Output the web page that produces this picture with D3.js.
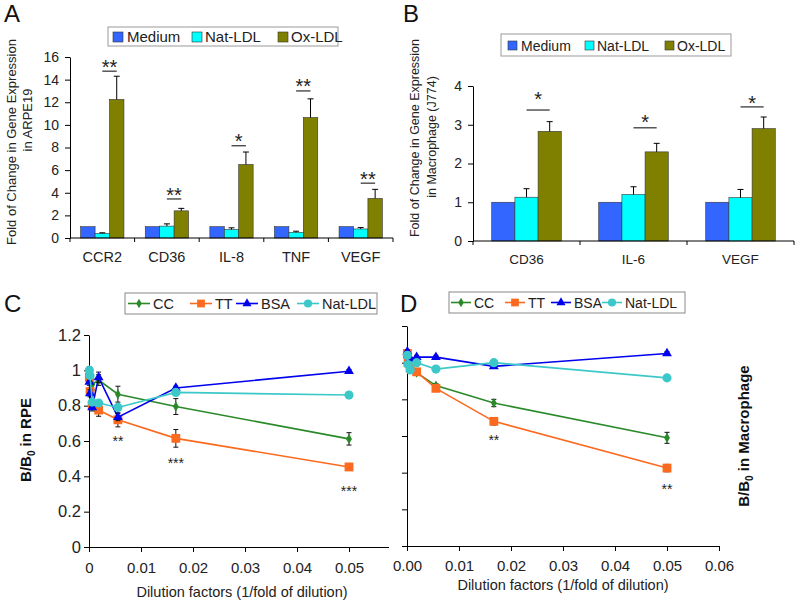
<!DOCTYPE html>
<html>
<head>
<meta charset="utf-8">
<script src="https://cdn.jsdelivr.net/npm/d3@7"></script>
<style>
  body { margin: 0; background: #fff; }
</style>
</head>
<body>
<svg id="fig" width="798" height="600"></svg>
<script>
// ---------- data ----------
var barSeries = ["Medium", "Nat-LDL", "Ox-LDL"];
var barColors = ["#3366ff", "#00ffff", "#808000"];

// panel A: ARPE19
var genesA = ["CCR2", "CD36", "IL-8", "TNF", "VEGF"];
var mediumA = [1, 1, 1, 1, 1];
var natA = [0.4, 1.05, 0.75, 0.5, 0.8];
var oxA = [12.25, 2.4, 6.5, 10.65, 3.5];
var mediumErrA = [0, 0, 0, 0, 0];
var natErrA = [0.06, 0.2, 0.15, 0.1, 0.12];
var oxErrA = [2.05, 0.22, 1.1, 1.65, 0.8];
var sigA = ["**", "**", "*", "**", "**"];
var sigLineA = [14.75, 3.45, 8.15, 13.0, 4.85];
var sigStarA = [15.55, 4.25, 8.95, 13.8, 5.6];
var yTicksA = [0, 2, 4, 6, 8, 10, 12, 14, 16];

// panel B: macrophage J774
var genesB = ["CD36", "IL-6", "VEGF"];
var mediumB = [1, 1, 1];
var natB = [1.13, 1.2, 1.12];
var oxB = [2.83, 2.3, 2.9];
var mediumErrB = [0, 0, 0];
var natErrB = [0.22, 0.2, 0.21];
var oxErrB = [0.25, 0.22, 0.3];
var sigB = ["*", "*", "*"];
var sigLineB = [3.38, 2.92, 3.46];
var sigStarB = [3.78, 3.18, 3.68];
var yTicksB = [0, 1, 2, 3, 4];

// panels C and D: dilution curves
var lineSeries = ["CC", "TT", "BSA", "Nat-LDL"];
var lineColors = ["#2a8a2a", "#fb6a1f", "#0000ee", "#3cc8c8"];
var dilution = [0.0000686, 0.000206, 0.000617, 0.00185, 0.00556, 0.0167, 0.05];
var xTicks = [0, 0.01, 0.02, 0.03, 0.04, 0.05, 0.06];
var xLabelsC = ["0", "0.01", "0.02", "0.03", "0.04", "0.05", ""];
var xLabelsD = ["0.00", "0.01", "0.02", "0.03", "0.04", "0.05", "0.06"];
var yTicksCD = [0, 0.2, 0.4, 0.6, 0.8, 1, 1.2];
var yLabelsC = ["0", "0.2", "0.4", "0.6", "0.8", "1", "1.2"];

var ccC = [1.0, 0.95, 0.92, 0.945, 0.865, 0.795, 0.612];
var ttC = [0.96, 0.88, 0.8, 0.775, 0.72, 0.615, 0.453];
var bsaC = [0.935, 0.87, 0.79, 0.96, 0.735, 0.9, 0.995];
var natC = [1.0, 0.97, 0.82, 0.815, 0.79, 0.875, 0.86];
var ccErrC = [0.02, 0.02, 0.03, 0.03, 0.045, 0.045, 0.035];
var ttErrC = [0.02, 0.02, 0.02, 0.035, 0.04, 0.05, 0.02];
var bsaErrC = [0.02, 0.02, 0.02, 0.03, 0.02, 0.01, 0.01];
var natErrC = [0.01, 0.01, 0.01, 0.01, 0.01, 0.01, 0.01];
var sigXC = [0.00556, 0.0167, 0.05];
var sigYC = [0.617, 0.49, 0.334];
var sigC = ["**", "***", "***"];

var ccD = [1.02, 0.99, 0.98, 0.945, 0.875, 0.78, 0.59];
var ttD = [1.05, 1.0, 0.97, 0.95, 0.86, 0.68, 0.425];
var bsaD = [1.06, 1.04, 1.02, 1.03, 1.03, 0.98, 1.05];
var natD = [1.04, 0.99, 0.96, 1.0, 0.965, 1.0, 0.917];
var ccErrD = [0.01, 0.01, 0.01, 0.01, 0.01, 0.02, 0.03];
var ttErrD = [0.01, 0.01, 0.01, 0.01, 0.01, 0.02, 0.02];
var bsaErrD = [0.01, 0.01, 0.01, 0.01, 0.01, 0.01, 0.01];
var natErrD = [0.01, 0.01, 0.01, 0.01, 0.01, 0.01, 0.01];
var sigXD = [0.0167, 0.05];
var sigYD = [0.595, 0.327];
var sigD = ["**", "**"];

// ---------- drawing ----------
var FONT = "Arial, 'Liberation Sans', sans-serif";
var svg = d3.select("#fig").attr("font-family", FONT);
svg.append("rect").attr("width", 798).attr("height", 600).attr("fill", "#fff");

function styleAxis(sel, fs) {
  sel.attr("font-family", FONT).attr("font-size", fs);
  sel.selectAll("path, line").attr("stroke", "#000").attr("stroke-width", 1);
  sel.selectAll("text").attr("fill", "#222");
}

function letter(x, y, t) {
  svg.append("text").attr("x", x).attr("y", y)
    .attr("font-size", 24).attr("fill", "#111").text(t);
}

// grouped bar panel (A, B)
function drawBars(p) {
  var g = svg.append("g");
  var x0 = d3.scaleBand().domain(p.genes).range([p.left, p.right]);
  var inner = x0.bandwidth() * p.groupFrac;
  var x1 = d3.scaleBand().domain(barSeries).range([0, inner]);
  var pad = (x0.bandwidth() - inner) / 2;
  var y = d3.scaleLinear().domain([0, p.yMax]).range([p.bottom, p.top]);

  var ya = g.append("g")
    .attr("transform", "translate(" + p.left + ",0)")
    .call(d3.axisLeft(y).tickValues(p.yTicks).tickFormat(d3.format("d"))
      .tickSize(5).tickSizeOuter(0).tickPadding(p.tickPad));
  styleAxis(ya, p.tickFont);

  barSeries.forEach(function(s, i) {
    var rows = p.genes.map(function(gn, j) {
      return { gene: gn, v: p.values[i][j], e: p.errs[i][j] };
    });
    g.selectAll(null).data(rows).enter().append("rect")
      .attr("x", d => x0(d.gene) + pad + x1(s))
      .attr("y", d => y(d.v))
      .attr("width", x1.bandwidth())
      .attr("height", d => y(0) - y(d.v))
      .attr("fill", barColors[i])
      .attr("stroke", "#333")
      .attr("stroke-width", 0.6);

    var eb = rows.filter(d => d.e > 0);
    var cx = d => x0(d.gene) + pad + x1(s) + x1.bandwidth() / 2;
    g.selectAll(null).data(eb).enter().append("line")
      .attr("x1", cx).attr("x2", cx)
      .attr("y1", d => y(d.v)).attr("y2", d => y(d.v + d.e))
      .attr("stroke", "#000").attr("stroke-width", 1);
    g.selectAll(null).data(eb).enter().append("line")
      .attr("x1", d => cx(d) - 3).attr("x2", d => cx(d) + 3)
      .attr("y1", d => y(d.v + d.e)).attr("y2", d => y(d.v + d.e))
      .attr("stroke", "#000").attr("stroke-width", 1);
  });

  // category axis: ticks on band edges, labels in the middle
  g.append("line").attr("x1", p.left).attr("x2", p.right)
    .attr("y1", y(0)).attr("y2", y(0)).attr("stroke", "#000");
  var edges = p.genes.map(d => x0(d)).concat([p.right]);
  g.selectAll(null).data(edges).enter().append("line")
    .attr("x1", d => d).attr("x2", d => d)
    .attr("y1", y(0)).attr("y2", y(0) + 4).attr("stroke", "#000");
  g.selectAll(null).data(p.genes).enter().append("text")
    .attr("x", d => x0(d) + x0.bandwidth() / 2)
    .attr("y", y(0) + p.catDy)
    .attr("text-anchor", "middle").attr("font-size", p.catFont).attr("fill", "#222")
    .text(d => d);

  // significance marks between Nat-LDL and Ox-LDL
  var natC = d => x0(d) + pad + x1("Nat-LDL") + x1.bandwidth() / 2;
  var oxC = d => x0(d) + pad + x1("Ox-LDL") + x1.bandwidth() / 2;
  g.selectAll(null).data(p.genes).enter().append("line")
    .attr("x1", natC).attr("x2", oxC)
    .attr("y1", (d, j) => y(p.sigLine[j])).attr("y2", (d, j) => y(p.sigLine[j]))
    .attr("stroke", "#000");
  g.selectAll(null).data(p.genes).enter().append("text")
    .attr("x", d => (natC(d) + oxC(d)) / 2)
    .attr("y", (d, j) => y(p.sigStar[j]) + 0.58 * 20)
    .attr("text-anchor", "middle").attr("font-size", 20).attr("fill", "#222")
    .text((d, j) => p.sig[j]);

  // legend
  var lg = g.append("g");
  lg.append("rect").attr("x", p.legend.x).attr("y", p.legend.y)
    .attr("width", p.legend.w).attr("height", p.legend.h)
    .attr("fill", "#fff").attr("stroke", "#999");
  barSeries.forEach(function(s, i) {
    lg.append("rect").attr("x", p.legend.sq[i]).attr("y", p.legend.sqY)
      .attr("width", p.legend.sqS).attr("height", p.legend.sqS)
      .attr("fill", barColors[i]).attr("stroke", "#333").attr("stroke-width", 0.6);
    lg.append("text").attr("x", p.legend.tx[i]).attr("y", p.legend.ty)
      .attr("font-size", p.legend.fs).attr("fill", "#222").text(s);
  });

  // y title, two lines
  p.title.forEach(function(t) {
    g.append("text")
      .attr("transform", "translate(" + t.x + "," + t.y + ") rotate(-90)")
      .attr("text-anchor", "middle").attr("font-size", p.titleFont).attr("fill", "#222")
      .text(t.text);
  });
}

// dilution curve panel (C, D)
function drawLines(p) {
  var g = svg.append("g");
  if (p.mask) {
    g.append("rect").attr("x", p.mask).attr("y", 275)
      .attr("width", 798 - p.mask).attr("height", 325).attr("fill", "#fff");
  }
  var x = d3.scaleLinear().domain([0, 0.06]).range([p.left, p.right]);
  var y = d3.scaleLinear().domain([0, 1.2]).range([p.bottom, p.top]);

  var xa = g.append("g")
    .attr("transform", "translate(0," + p.bottom + ")")
    .call(d3.axisBottom(x).tickValues(xTicks).tickFormat((d, i) => p.xLabels[i])
      .tickSize(5).tickSizeOuter(0).tickPadding(p.xPad));
  styleAxis(xa, 15);
  var ya = g.append("g")
    .attr("transform", "translate(" + p.left + ",0)")
    .call(d3.axisLeft(y).tickValues(yTicksCD)
      .tickFormat((d, i) => p.yLabels ? p.yLabels[i] : "")
      .tickSize(5).tickSizeOuter(0).tickPadding(3));
  styleAxis(ya, 16.5);

  var symbols = [d3.symbolDiamond, d3.symbolSquare, d3.symbolTriangle, d3.symbolCircle];
  var sizes = [30, 78, 42, 66];
  var line = d3.line().x(d => x(d.x)).y(d => y(d.v));

  lineSeries.forEach(function(s, i) {
    var pts = dilution.map((dx, j) => ({ x: dx, v: p.values[i][j], e: p.errs[i][j] }));
    g.append("path").datum(pts).attr("d", line)
      .attr("fill", "none").attr("stroke", lineColors[i]).attr("stroke-width", 1.6);
    g.selectAll(null).data(pts).enter().append("line")
      .attr("x1", d => x(d.x)).attr("x2", d => x(d.x))
      .attr("y1", d => y(d.v - d.e)).attr("y2", d => y(d.v + d.e))
      .attr("stroke", "#111").attr("stroke-width", 1);
    [-1, 1].forEach(function(sg) {
      g.selectAll(null).data(pts).enter().append("line")
        .attr("x1", d => x(d.x) - 2.5).attr("x2", d => x(d.x) + 2.5)
        .attr("y1", d => y(d.v + sg * d.e)).attr("y2", d => y(d.v + sg * d.e))
        .attr("stroke", "#111").attr("stroke-width", 1);
    });
    g.selectAll(null).data(pts).enter().append("path")
      .attr("d", d3.symbol().type(symbols[i]).size(sizes[i]))
      .attr("transform", d => "translate(" + x(d.x) + "," + y(d.v) + ")")
      .attr("fill", lineColors[i]);
  });

  // significance stars
  g.selectAll(null).data(p.sigX).enter().append("text")
    .attr("x", d => x(d))
    .attr("y", (d, i) => y(p.sigY[i]) + 8)
    .attr("text-anchor", "middle").attr("font-size", 14).attr("fill", "#222")
    .text((d, i) => p.sig[i]);

  // legend
  var L = p.legend;
  var lg = g.append("g");
  lg.append("rect").attr("x", L.x).attr("y", L.y).attr("width", L.w).attr("height", L.h)
    .attr("fill", "#fff").attr("stroke", "#888");
  var my = L.y + L.h / 2;
  var legSizes = [26, 60, 36, 52];
  lineSeries.forEach(function(s, i) {
    lg.append("line").attr("x1", L.lx[i]).attr("x2", L.lx[i] + L.lw)
      .attr("y1", my).attr("y2", my).attr("stroke", lineColors[i]).attr("stroke-width", 1.6);
    lg.append("path").attr("d", d3.symbol().type(symbols[i]).size(legSizes[i]))
      .attr("transform", "translate(" + (L.lx[i] + L.lw / 2) + "," + my + ")")
      .attr("fill", lineColors[i]);
    lg.append("text").attr("x", L.lx[i] + L.lw + 3).attr("y", L.ty)
      .attr("font-size", L.fs).attr("fill", "#222").text(s);
  });

  g.append("text").attr("x", p.xTitle[0]).attr("y", p.xTitle[1])
    .attr("text-anchor", "middle").attr("font-size", 14.5).attr("fill", "#222")
    .text("Dilution factors (1/fold of dilution)");

  var yt = g.append("text")
    .attr("transform", "translate(" + p.yTitle[0] + "," + p.yTitle[1] + ") rotate(-90)")
    .attr("text-anchor", "middle").attr("font-size", 15).attr("font-weight", "bold").attr("fill", "#111");
  yt.append("tspan").text("B/B");
  yt.append("tspan").attr("font-size", 10).attr("dy", 4).text("0");
  yt.append("tspan").attr("dy", -4).text(" in " + p.yName);
}

drawBars({
  genes: genesA, left: 70, right: 393, bottom: 238, top: 57, yMax: 16,
  yTicks: yTicksA, tickPad: 6, tickFont: 14, groupFrac: 0.67,
  values: [mediumA, natA, oxA], errs: [mediumErrA, natErrA, oxErrA],
  sig: sigA, sigLine: sigLineA, sigStar: sigStarA,
  catDy: 24, catFont: 14.5, titleFont: 13,
  legend: { x: 108, y: 27, w: 230, h: 19, sq: [113, 192, 278], sqY: 32, sqS: 10,
            tx: [127, 205, 291], ty: 42, fs: 15 },
  title: [{ x: 16, y: 142, text: "Fold of Change in Gene Expression" },
          { x: 32, y: 120, text: "in ARPE19" }]
});

drawBars({
  genes: genesB, left: 473, right: 794, bottom: 241, top: 86, yMax: 4,
  yTicks: yTicksB, tickPad: 6, tickFont: 14, groupFrac: 0.65,
  values: [mediumB, natB, oxB], errs: [mediumErrB, natErrB, oxErrB],
  sig: sigB, sigLine: sigLineB, sigStar: sigStarB,
  catDy: 23, catFont: 13.5, titleFont: 12.5,
  legend: { x: 501, y: 34, w: 230, h: 22, sq: [508, 585, 665], sqY: 41, sqS: 9,
            tx: [521, 597, 677], ty: 51, fs: 14 },
  title: [{ x: 419, y: 138, text: "Fold of Change in Gene Expression" },
          { x: 436, y: 137, text: "in Macrophage (J774)" }]
});

drawLines({
  left: 89, right: 401, bottom: 547, top: 335,
  xLabels: xLabelsC, yLabels: yLabelsC, xPad: 10,
  values: [ccC, ttC, bsaC, natC], errs: [ccErrC, ttErrC, bsaErrC, natErrC],
  sigX: sigXC, sigY: sigYC, sig: sigC,
  legend: { x: 125, y: 293, w: 252, h: 21, lx: [128, 190, 236, 297], lw: 22, ty: 309, fs: 14.5 },
  xTitle: [242, 597], yTitle: [31, 440], yName: "RPE"
});

drawLines({
  mask: 389,
  left: 407, right: 719, bottom: 546, top: 326,
  xLabels: xLabelsD, yLabels: null, xPad: 9,
  values: [ccD, ttD, bsaD, natD], errs: [ccErrD, ttErrD, bsaErrD, natErrD],
  sigX: sigXD, sigY: sigYD, sig: sigD,
  legend: { x: 449, y: 292, w: 236, h: 21, lx: [451, 505, 551, 602], lw: 20, ty: 308, fs: 14 },
  xTitle: [563, 590], yTitle: [749, 436], yName: "Macrophage"
});

letter(4, 22, "A");
letter(403, 22, "B");
letter(4, 312, "C");
letter(400, 312, "D");
</script>
</body>
</html>
